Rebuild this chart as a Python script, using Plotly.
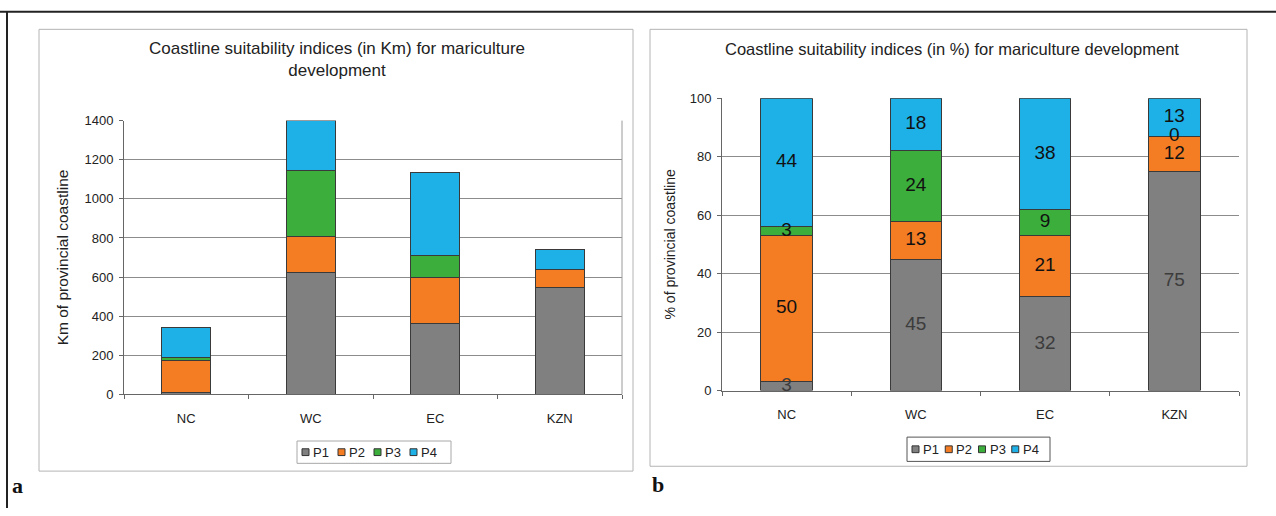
import numpy as np
import plotly.graph_objects as go

categories = ["NC", "WC", "EC", "KZN"]
series_names = ["P1", "P2", "P3", "P4"]

# Panel a: km of provincial coastline
km_p1 = [10, 625, 361, 548]
km_p2 = [165, 182, 235, 89]
km_p3 = [12, 339, 112, 0]
km_p4 = [157, 254, 425, 104]

# Panel b: % of provincial coastline
pct_p1 = [3, 45, 32, 75]
pct_p2 = [50, 13, 21, 12]
pct_p3 = [3, 24, 9, 0]
pct_p4 = [44, 18, 38, 13]

colors = ["#808080", "#f47d24", "#3cae3c", "#1db1e8"]
label_colors = ["#3c3c3c", "#111111", "#111111", "#111111"]

W, H = 1276, 516
FONT = "Liberation Sans"


def px(x):
    return x / W


def py(y):
    return 1 - y / H


fig = go.Figure()

km_series = [km_p1, km_p2, km_p3, km_p4]
pct_series = [pct_p1, pct_p2, pct_p3, pct_p4]

for name, vals, col in zip(series_names, km_series, colors):
    fig.add_trace(go.Bar(
        x=categories, y=vals, name=name, marker=dict(color=col, line=dict(color="#3a3a3a", width=1)),
        width=0.39, xaxis="x", yaxis="y", showlegend=False, hoverinfo="x+y+name"))

for name, vals, col in zip(series_names, pct_series, colors):
    fig.add_trace(go.Bar(
        x=categories, y=vals, name=name, marker=dict(color=col, line=dict(color="#3a3a3a", width=1)),
        width=0.40, xaxis="x2", yaxis="y2", showlegend=False, hoverinfo="x+y+name"))

# data labels for panel b at segment mid-points
pct_arr = np.array(pct_series, dtype=float)
cum = np.cumsum(pct_arr, axis=0)
mids = cum - pct_arr / 2
for i, name in enumerate(series_names):
    fig.add_trace(go.Scatter(
        x=categories, y=mids[i], mode="text", text=[str(int(v)) for v in pct_arr[i]],
        textfont=dict(family=FONT, size=19, color=label_colors[i]),
        xaxis="x2", yaxis="y2", showlegend=False, hoverinfo="skip", cliponaxis=False))

axis_common = dict(
    showline=True, linecolor="#666666", linewidth=1,
    tickfont=dict(family=FONT, size=13, color="#222222"),
)

shapes = [
    # outer frame lines
    dict(type="line", xref="paper", yref="paper", x0=0, x1=1, y0=py(5), y1=py(5),
         line=dict(color="#222222", width=2)),
    dict(type="line", xref="paper", yref="paper", x0=px(7), x1=px(7), y0=py(5), y1=0,
         line=dict(color="#222222", width=2)),
    # chart boxes
    dict(type="rect", xref="paper", yref="paper", x0=px(39), x1=px(633), y0=py(478), y1=py(23),
         line=dict(color="#b4b4b4", width=1)),
    dict(type="rect", xref="paper", yref="paper", x0=px(650), x1=px(1247), y0=py(473), y1=py(23),
         line=dict(color="#b4b4b4", width=1)),
    # right edge of panel a plot area
    dict(type="line", xref="paper", yref="paper", x0=px(622), x1=px(622), y0=py(399), y1=py(117),
         line=dict(color="#9a9a9a", width=1)),
]

annotations = [
    dict(text="Coastline suitability indices (in Km) for mariculture<br>development",
         xref="paper", yref="paper", x=px(337), y=py(54), xanchor="center", yanchor="middle",
         showarrow=False, font=dict(family=FONT, size=17, color="#222222"), align="center"),
    dict(text="Coastline suitability indices (in %) for mariculture development",
         xref="paper", yref="paper", x=px(952), y=py(43), xanchor="center", yanchor="middle",
         showarrow=False, font=dict(family=FONT, size=16.5, color="#222222")),
    dict(text="<b>a</b>", xref="paper", yref="paper", x=px(17), y=py(493), xanchor="center", yanchor="middle",
         showarrow=False, font=dict(family="Liberation Serif", size=22, color="#111111")),
    dict(text="<b>b</b>", xref="paper", yref="paper", x=px(658), y=py(492), xanchor="center", yanchor="middle",
         showarrow=False, font=dict(family="Liberation Serif", size=22, color="#111111")),
]

# hand-built compact legends (box, swatches, labels)
legend_specs = [
    dict(box=(297, 451, 447, 470), x0=302, yc=458.5, border="#a8a8a8"),
    dict(box=(907, 1050, 443, 468), x0=912, yc=455.5, border="#555555"),
]
for spec in legend_specs:
    bx0, bx1, by0, by1 = spec["box"]
    shapes.append(dict(type="rect", xref="paper", yref="paper", x0=px(bx0), x1=px(bx1),
                       y0=py(by1), y1=py(by0), line=dict(color=spec["border"], width=1),
                       fillcolor="white", layer="above"))
    step = (bx1 - bx0 - 10) / len(series_names)
    for i, (name, col) in enumerate(zip(series_names, colors)):
        sx = spec["x0"] + i * step
        shapes.append(dict(type="rect", xref="paper", yref="paper", x0=px(sx), x1=px(sx + 7),
                           y0=py(spec["yc"] + 3.5), y1=py(spec["yc"] - 3.5),
                           line=dict(color="#333333", width=1), fillcolor=col, layer="above"))
        annotations.append(dict(text=name, xref="paper", yref="paper", x=px(sx + 9), y=py(spec["yc"]),
                                xanchor="left", yanchor="middle", showarrow=False,
                                font=dict(family=FONT, size=13, color="#222222")))

fig.update_layout(
    width=W, height=H,
    margin=dict(l=0, r=0, t=0, b=0),
    paper_bgcolor="white", plot_bgcolor="white",
    barmode="stack", bargap=0.6, showlegend=False,
    font=dict(family=FONT, color="#222222"),
    xaxis=dict(domain=[px(124), px(622)], anchor="y", ticks="outside", tickson="boundaries",
               ticklen=4, tickcolor="#666666", ticklabelstandoff=12, **axis_common),
    yaxis=dict(domain=[py(399), py(117)], anchor="x", range=[0, 1400], dtick=200,
               ticks="outside", ticklen=4, tickcolor="#666666", ticklabelstandoff=3,
               showgrid=True, gridcolor="#8c8c8c", gridwidth=1, zeroline=False,
               title=dict(text="Km of provincial coastline", font=dict(family=FONT, size=15.5, color="#222222"), standoff=12),
               **axis_common),
    xaxis2=dict(domain=[px(722), px(1239)], anchor="y2", ticks="outside", tickson="boundaries",
                ticklen=4, tickcolor="#666666", ticklabelstandoff=12, **axis_common),
    yaxis2=dict(domain=[py(395), py(94)], anchor="x2", range=[0, 100], dtick=20,
                ticks="outside", ticklen=4, tickcolor="#666666", ticklabelstandoff=3,
                showgrid=True, gridcolor="#8c8c8c", gridwidth=1, zeroline=False,
                title=dict(text="% of provincial coastline", font=dict(family=FONT, size=14, color="#222222"), standoff=10),
                **axis_common),
    shapes=shapes,
    annotations=annotations,
)

fig.write_html("out.html")
